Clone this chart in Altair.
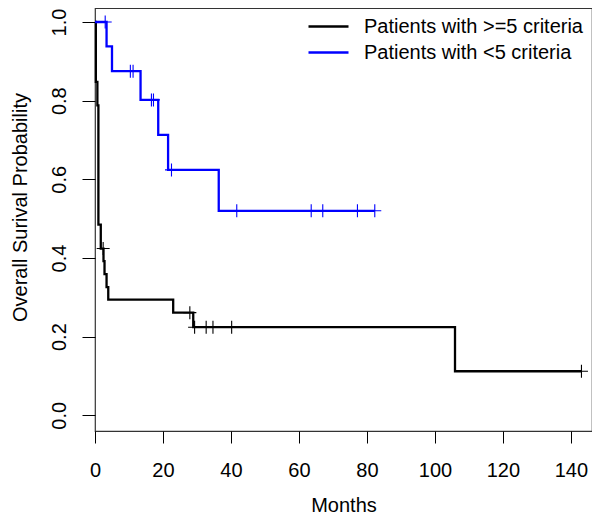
import altair as alt
import pandas as pd

# ---- data ----
groups = ["Patients with >=5 criteria", "Patients with <5 criteria"]
colors = ["#000000", "#0000FF"]

# step curve (>=5 criteria): event times (months) and survival after each step
hi_time = [0, 0.25, 0.7, 1.0, 1.7, 2.5, 2.8, 3.4, 3.9, 23.0, 28.9, 105.9, 143.1]
hi_surv = [1.0, 0.848, 0.788, 0.485, 0.424, 0.392, 0.359, 0.326, 0.294, 0.261, 0.224, 0.112, 0.112]
hi_cens_time = [2.4, 27.9, 29.3, 32.7, 34.7, 40.2, 143.1]
hi_cens_surv = [0.424, 0.261, 0.224, 0.224, 0.224, 0.224, 0.112]

# step curve (<5 criteria)
lo_time = [0, 3.4, 5.0, 13.4, 18.6, 21.5, 36.4, 82.3]
lo_surv = [1.0, 0.938, 0.875, 0.802, 0.713, 0.624, 0.520, 0.520]
lo_cens_time = [3.0, 10.4, 11.2, 16.6, 17.2, 22.5, 41.7, 63.6, 67.0, 77.2, 82.3]
lo_cens_surv = [1.0, 0.875, 0.875, 0.802, 0.802, 0.624, 0.520, 0.520, 0.520, 0.520, 0.520]

x_ticks = [0, 20, 40, 60, 80, 100, 120, 140]
y_ticks = [0.0, 0.2, 0.4, 0.6, 0.8, 1.0]

curves = pd.concat([
    pd.DataFrame({"t": hi_time, "s": hi_surv, "g": groups[0], "k": 0}),
    pd.DataFrame({"t": lo_time, "s": lo_surv, "g": groups[1], "k": 1}),
])
cens = pd.concat([
    pd.DataFrame({"t": hi_cens_time, "s": hi_cens_surv, "g": groups[0]}),
    pd.DataFrame({"t": lo_cens_time, "s": lo_cens_surv, "g": groups[1]}),
])

FONT = "Liberation Sans"

xs = alt.Scale(domain=[0, 146.2], nice=False, zero=False)
ys = alt.Scale(domain=[-0.0399, 1.0356], nice=False, zero=False)
cs = alt.Scale(domain=groups, range=colors)

x_axis = alt.Axis(values=x_ticks, title="Months", grid=False, domain=False,
                  tickSize=12, tickColor="#000", tickWidth=1,
                  labelFontSize=20, labelFont=FONT, labelColor="#000",
                  labelBaseline="alphabetic", labelPadding=33,
                  labelFlush=False, labelOverlap=False,
                  titleFontSize=20, titleFont=FONT, titleFontWeight="normal",
                  titleColor="#000", titleBaseline="alphabetic", titleY=80)
y_axis = alt.Axis(values=y_ticks, format=".1f", title="Overall Surival Probability",
                  grid=False, domain=False, tickSize=13, tickColor="#000",
                  labelAngle=270, labelAlign="center", labelBaseline="alphabetic",
                  labelPadding=17, labelFontSize=20, labelFont=FONT, labelColor="#000",
                  labelFlush=False, labelOverlap=False,
                  titleFontSize=20, titleFont=FONT, titleFontWeight="normal",
                  titleColor="#000", titleAngle=270, titleAlign="center",
                  titleBaseline="alphabetic", titleX=-69, titleY=199)

lines = alt.Chart(curves).mark_line(interpolate="step-after", strokeWidth=2.3).encode(
    x=alt.X("t:Q", scale=xs, axis=x_axis),
    y=alt.Y("s:Q", scale=ys, axis=y_axis),
    color=alt.Color("g:N", scale=cs, title=None,
                    legend=alt.Legend(orient="none", legendX=222, legendY=7,
                                      symbolType="M-2,0H2", symbolSize=400,
                                      symbolStrokeWidth=2.5, labelFontSize=20,
                                      labelFont=FONT, labelColor="#000",
                                      labelOffset=24, rowPadding=4, labelLimit=400)),
    detail="k:N",
)

plus = alt.Chart(cens).mark_point(shape="M0,-1V1M-1,0H1", filled=False,
                                  size=169, strokeWidth=1.1, opacity=1).encode(
    x=alt.X("t:Q", scale=xs),
    y=alt.Y("s:Q", scale=ys),
    color=alt.Color("g:N", scale=cs, legend=None),
)

chart = alt.layer(lines, plus).properties(
    width=497, height=423,
    autosize=alt.AutoSizeParams(type="none"),
    padding={"left": 87, "top": 0, "right": 0, "bottom": 87},
).configure_view(stroke="#333", strokeWidth=1.2)

chart.save("out.html", embed_options={"renderer": "svg", "actions": False})
